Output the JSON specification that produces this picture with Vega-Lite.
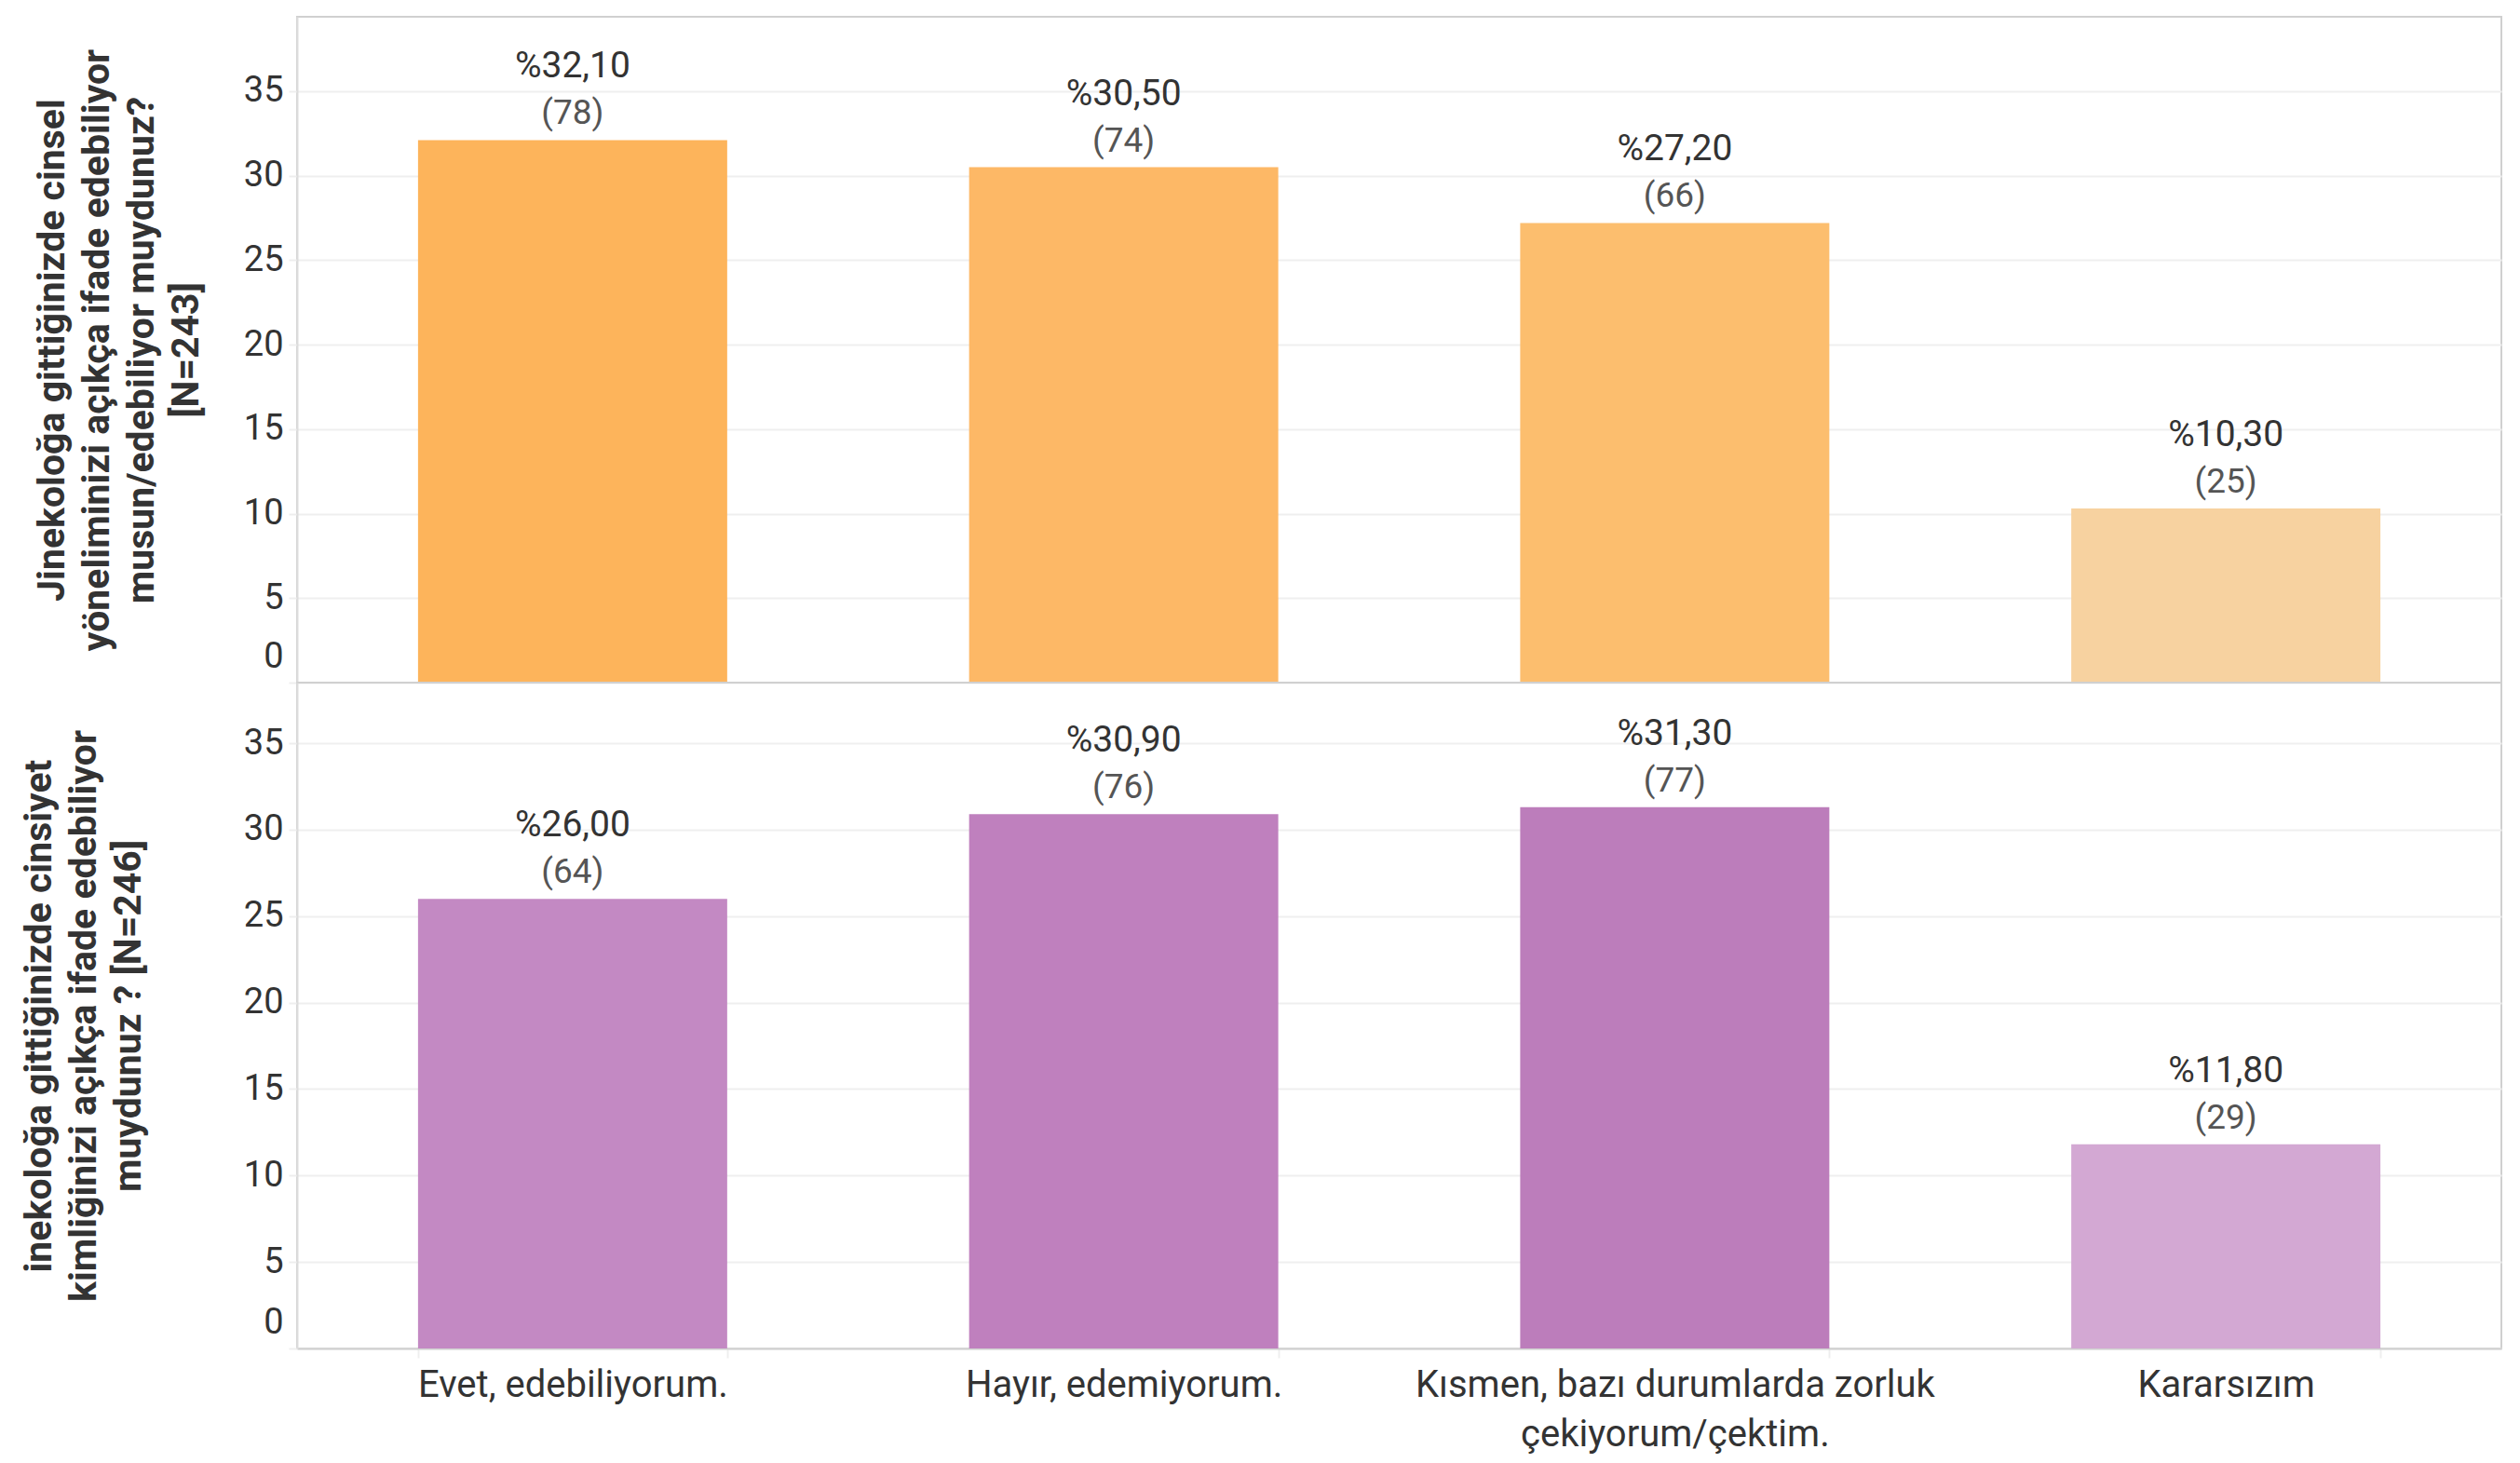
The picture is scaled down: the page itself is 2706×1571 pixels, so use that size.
{
  "$schema": "https://vega.github.io/schema/vega-lite/v6.json",
  "autosize": "pad",
  "padding": {"left": 20, "top": 17, "right": 21, "bottom": 5},
  "background": "white",
  "bounds": "flush",
  "spacing": 0,
  "config": {
    "locale": {"number": {"decimal": ",", "thousands": ".", "grouping": [3], "currency": ["%", ""]}},
    "view": {"stroke": "#d0d0d0", "strokeWidth": 2},
    "font": "Roboto",
    "axis": {"labelFont": "Roboto", "titleFont": "Roboto"}
  },
  "datasets": {
    "q1": [
      {"answer": "Evet, edebiliyorum.", "pct": 32.1, "n": 78},
      {"answer": "Hayır, edemiyorum.", "pct": 30.5, "n": 74},
      {"answer": "Kısmen, bazı durumlarda zorluk çekiyorum/çektim.", "pct": 27.2, "n": 66},
      {"answer": "Kararsızım", "pct": 10.3, "n": 25}
    ],
    "q2": [
      {"answer": "Evet, edebiliyorum.", "pct": 26.0, "n": 64},
      {"answer": "Hayır, edemiyorum.", "pct": 30.9, "n": 76},
      {"answer": "Kısmen, bazı durumlarda zorluk çekiyorum/çektim.", "pct": 31.3, "n": 77},
      {"answer": "Kararsızım", "pct": 11.8, "n": 29}
    ]
  },
  "vconcat": [
    {
      "width": 2367,
      "height": 715,
      "data": {"name": "q1"},
      "transform": [{"calculate": "'(' + datum.n + ')'", "as": "nlabel"}],
      "encoding": {
        "x": {"field": "answer", "type": "nominal", "sort": null,
              "scale": {"paddingInner": 0.439, "paddingOuter": 0.2195},
              "axis": null},
        "y": {"field": "pct", "type": "quantitative",
              "scale": {"domain": [0, 39.4], "nice": false, "zero": true},
              "axis": {
                "values": [0, 5, 10, 15, 20, 25, 30, 35],
                "title": ["Jinekoloğa gittiğinizde cinsel", "yöneliminizi açıkça ifade edebiliyor", "musun/edebiliyor muydunuz?", "[N=243]"],
                "titleFontSize": 41, "titleFontWeight": "bold", "titleColor": "#333333",
                "titleLineHeight": 48, "titlePadding": 40,
                "labelFontSize": 38, "labelColor": "#333333", "labelPadding": 6, "labelFlush": true, "labelFlushOffset": -9,
                "ticks": true, "tickSize": 9, "tickColor": "#eeeeee", "tickWidth": 2,
                "domain": true, "domainColor": "#dddddd", "domainWidth": 2,
                "grid": true, "gridColor": "#efefef", "gridWidth": 2
              }}
      },
      "layer": [
        {"mark": {"type": "bar"},
         "encoding": {"color": {"field": "answer", "type": "nominal", "legend": null,
            "scale": {"domain": ["Evet, edebiliyorum.", "Hayır, edemiyorum.", "Kısmen, bazı durumlarda zorluk çekiyorum/çektim.", "Kararsızım"],
                      "range": ["#FDB45B", "#FDB866", "#FCBE6E", "#F7D2A0"]}}}},
        {"mark": {"type": "text", "baseline": "alphabetic", "dy": -67, "fontSize": 39, "color": "#333333"},
         "encoding": {"text": {"field": "pct", "type": "quantitative", "format": "$.2f"}}},
        {"mark": {"type": "text", "baseline": "alphabetic", "dy": -17, "fontSize": 37, "color": "#555555"},
         "encoding": {"text": {"field": "nlabel", "type": "nominal"}}}
      ]
    },
    {
      "width": 2367,
      "height": 715,
      "data": {"name": "q2"},
      "transform": [{"calculate": "'(' + datum.n + ')'", "as": "nlabel"}],
      "encoding": {
        "x": {"field": "answer", "type": "nominal", "sort": null,
              "scale": {"paddingInner": 0.439, "paddingOuter": 0.2195},
              "axis": {
                "title": null, "labelAngle": 0, "labelFontSize": 40, "labelColor": "#333333",
                "labelLineHeight": 53, "labelPadding": 9, "labelLimit": 600,
                "labelExpr": "indexof(datum.label, 'zorluk') > 0 ? ['Kısmen, bazı durumlarda zorluk', 'çekiyorum/çektim.'] : datum.label",
                "ticks": true, "tickBand": "extent", "tickSize": 10, "tickColor": "#eeeeee", "tickWidth": 2,
                "domain": true, "domainColor": "#d0d0d0", "domainWidth": 2
              }},
        "y": {"field": "pct", "type": "quantitative",
              "scale": {"domain": [0, 38.5], "nice": false, "zero": true},
              "axis": {
                "values": [0, 5, 10, 15, 20, 25, 30, 35],
                "title": ["inekoloğa gittiğinizde cinsiyet", "kimliğinizi açıkça ifade edebiliyor", "muydunuz ? [N=246]"],
                "titleFontSize": 41, "titleFontWeight": "bold", "titleColor": "#333333",
                "titleLineHeight": 48, "titlePadding": 102,
                "labelFontSize": 38, "labelColor": "#333333", "labelPadding": 6, "labelFlush": true, "labelFlushOffset": -9,
                "ticks": true, "tickSize": 9, "tickColor": "#eeeeee", "tickWidth": 2,
                "domain": true, "domainColor": "#dddddd", "domainWidth": 2,
                "grid": true, "gridColor": "#efefef", "gridWidth": 2
              }}
      },
      "layer": [
        {"mark": {"type": "bar"},
         "encoding": {"color": {"field": "answer", "type": "nominal", "legend": null,
            "scale": {"domain": ["Evet, edebiliyorum.", "Hayır, edemiyorum.", "Kısmen, bazı durumlarda zorluk çekiyorum/çektim.", "Kararsızım"],
                      "range": ["#C389C3", "#BF80BE", "#BC7DBB", "#D3A8D3"]}}}},
        {"mark": {"type": "text", "baseline": "alphabetic", "dy": -67, "fontSize": 39, "color": "#333333"},
         "encoding": {"text": {"field": "pct", "type": "quantitative", "format": "$.2f"}}},
        {"mark": {"type": "text", "baseline": "alphabetic", "dy": -17, "fontSize": 37, "color": "#555555"},
         "encoding": {"text": {"field": "nlabel", "type": "nominal"}}}
      ]
    }
  ],
  "resolve": {"scale": {"color": "independent", "y": "independent"}}
}
